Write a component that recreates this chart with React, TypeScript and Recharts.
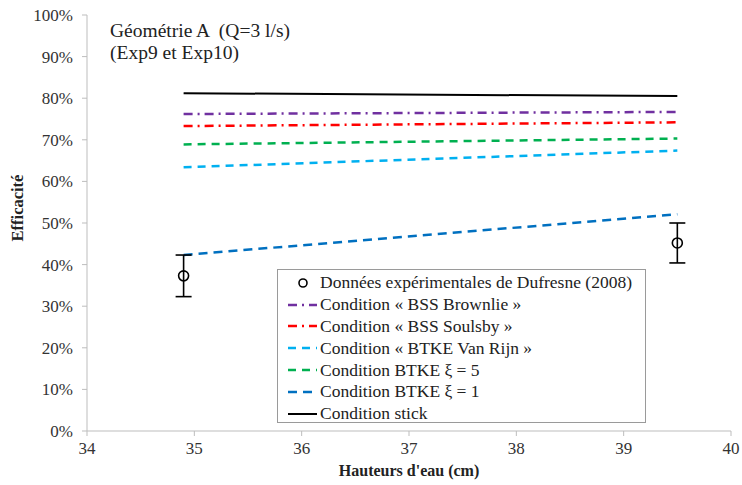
import React from 'react';
import {
  ComposedChart,
  Line,
  Scatter,
  ErrorBar,
  XAxis,
  YAxis,
} from 'recharts';

// values (efficiency as fraction)
const heights = [34.9, 39.5];
const stick = [0.812, 0.805];
const bssBrownlie = [0.762, 0.767];
const bssSoulsby = [0.733, 0.742];
const btkeVanRijn = [0.634, 0.674];
const btkeXi5 = [0.689, 0.703];
const btkeXi1 = [0.423, 0.521];
const measured = [0.373, 0.452];
const measuredErr = [0.05, 0.048];

const xTicks = [34, 35, 36, 37, 38, 39, 40];
const yTicks = [0, 0.1, 0.2, 0.3, 0.4, 0.5, 0.6, 0.7, 0.8, 0.9, 1];

const FONT = '"Liberation Serif", serif';

const toPoints = (vals: number[]) => heights.map((x, i) => ({ x, y: vals[i] }));

const expData = heights.map((x, i) => ({ x, y: measured[i], err: measuredErr[i] }));

const lineSeries = [
  { name: 'Condition « BSS Brownlie »', values: bssBrownlie, color: '#7030A0', dash: '9 5 2 5', width: 2.5 },
  { name: 'Condition « BSS Soulsby »', values: bssSoulsby, color: '#FF0000', dash: '9 5 2 5', width: 2.5 },
  { name: 'Condition « BTKE Van Rijn »', values: btkeVanRijn, color: '#00B0F0', dash: '8 6', width: 2.5 },
  { name: 'Condition BTKE ξ = 5', values: btkeXi5, color: '#00B050', dash: '8 6', width: 2.5 },
  { name: 'Condition BTKE ξ = 1', values: btkeXi1, color: '#0070C0', dash: '9 6', width: 2.5 },
  { name: 'Condition stick', values: stick, color: '#000000', dash: undefined, width: 2 },
];

const expName = 'Données expérimentales de Dufresne (2008)';

function Ring(props: any) {
  const { cx, cy } = props;
  if (cx == null || cy == null) return null;
  return <circle cx={cx} cy={cy} r={5} fill="none" stroke="#000" strokeWidth={1.6} />;
}

function LegendBox() {
  const row: React.CSSProperties = { display: 'flex', alignItems: 'center', height: 21.8 };
  return (
    <div
      style={{
        position: 'absolute',
        left: 277,
        top: 269,
        border: '1px solid #9a9a9a',
        background: '#fff',
        padding: '2px 0 2px 9px',
        fontFamily: FONT,
        fontSize: 17.5,
        color: '#222',
        boxSizing: 'border-box',
        width: 369,
        height: 154,
      }}
    >
      <div style={row}>
        <svg width={33} height={14}>
          <circle cx={16} cy={7} r={4} fill="none" stroke="#000" strokeWidth={1.6} />
        </svg>
        <span>{expName}</span>
      </div>
      {lineSeries.map((s) => (
        <div key={s.name} style={row}>
          <svg width={33} height={14}>
            <line
              x1={1}
              y1={7}
              x2={30}
              y2={7}
              stroke={s.color}
              strokeWidth={s.width}
              strokeDasharray={s.dash}
            />
          </svg>
          <span>{s.name}</span>
        </div>
      ))}
    </div>
  );
}

export default function App() {
  const tickStyle = { fill: '#333', fontSize: 17, fontFamily: FONT };
  return (
    <div style={{ position: 'absolute', left: 0, top: 0, width: 742, height: 485, background: '#fff' }}>
      <ComposedChart width={742} height={485} margin={{ top: 15, right: 11, bottom: 24, left: 11 }}>
        <XAxis
          type="number"
          dataKey="x"
          domain={[34, 40]}
          ticks={xTicks}
          interval={0}
          allowDataOverflow
          stroke="#bdbdbd"
          tickSize={5}
          tickMargin={6}
          tick={tickStyle}
          height={30}
        />
        <YAxis
          type="number"
          dataKey="y"
          domain={[0, 1]}
          ticks={yTicks}
          interval={0}
          allowDataOverflow
          stroke="#bdbdbd"
          width={76}
          tickSize={5}
          tickMargin={9}
          tick={tickStyle}
          tickFormatter={(v) => `${Math.round(Number(v) * 100)}%`}
        />
        {lineSeries.map((s) => (
          <Line
            key={s.name}
            data={toPoints(s.values)}
            dataKey="y"
            name={s.name}
            type="linear"
            stroke={s.color}
            strokeWidth={s.width}
            strokeDasharray={s.dash}
            dot={false}
            activeDot={false}
            isAnimationActive={false}
          />
        ))}
        <Scatter data={expData} dataKey="y" name={expName} shape={<Ring />} isAnimationActive={false}>
          <ErrorBar dataKey="err" direction="y" width={8} stroke="#000" strokeWidth={1.6} isAnimationActive={false} />
        </Scatter>
      </ComposedChart>
      <LegendBox />
      <div
        style={{
          position: 'absolute',
          left: 110,
          top: 20,
          fontFamily: FONT,
          fontSize: 19.5,
          lineHeight: '22px',
          color: '#222',
          whiteSpace: 'pre',
        }}
      >
        {'Géométrie A  (Q=3 l/s)\n(Exp9 et Exp10)'}
      </div>
      <div
        style={{
          position: 'absolute',
          left: 0,
          width: 818,
          top: 461,
          textAlign: 'center',
          fontFamily: FONT,
          fontWeight: 'bold',
          fontSize: 16,
          lineHeight: '20px',
          color: '#222',
        }}
      >
        Hauteurs d'eau (cm)
      </div>
      <div
        style={{
          position: 'absolute',
          left: 13,
          top: 208,
          transform: 'translate(-50%, -50%) rotate(-90deg)',
          fontFamily: FONT,
          fontWeight: 'bold',
          fontSize: 16.5,
          lineHeight: '20px',
          color: '#222',
          whiteSpace: 'nowrap',
          marginLeft: 5,
        }}
      >
        Efficacité
      </div>
    </div>
  );
}
